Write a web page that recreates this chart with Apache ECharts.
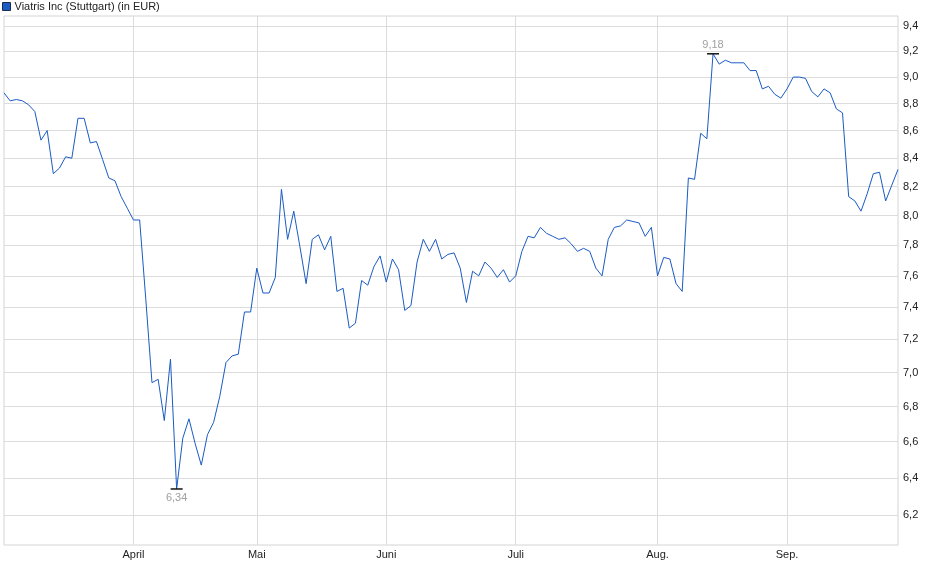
<!DOCTYPE html>
<html>
<head>
<meta charset="utf-8">
<script src="https://cdn.jsdelivr.net/npm/echarts@6/dist/echarts.min.js"></script>
<style>
  html, body { margin: 0; padding: 0; background: #fff; }
  #chart { width: 940px; height: 579px; }
</style>
</head>
<body>
<div id="chart"></div>
<script>
// trading days 2025 (Stuttgart), one category per day
const marchDays = [3, 4, 5, 6, 7, 10, 11, 12, 13, 14, 17, 18, 19, 20, 21, 24, 25, 26, 27, 28, 31];
const aprilDays = [1, 2, 3, 4, 7, 8, 9, 10, 11, 14, 15, 16, 17, 22, 23, 24, 25, 28, 29, 30];
const mayDays = [2, 5, 6, 7, 8, 9, 12, 13, 14, 15, 16, 19, 20, 21, 22, 23, 26, 27, 28, 29, 30];
const juneDays = [2, 3, 4, 5, 6, 9, 10, 11, 12, 13, 16, 17, 18, 19, 20, 23, 24, 25, 26, 27, 30];
const julyDays = [1, 2, 3, 4, 7, 8, 9, 10, 11, 14, 15, 16, 17, 18, 21, 22, 23, 24, 25, 28, 29, 30, 31];
const augDays = [1, 4, 5, 6, 7, 8, 11, 12, 13, 14, 15, 18, 19, 20, 21, 22, 25, 26, 27, 28, 29];
const sepDays = [1, 2, 3, 4, 5, 8, 9, 10, 11, 12, 15, 16, 17, 18, 19, 22, 23, 24, 25];

// closing prices in EUR
const marchPrices = [8.88, 8.82, 8.83, 8.82, 8.79, 8.74, 8.53, 8.60, 8.29, 8.33, 8.41, 8.40, 8.69, 8.69, 8.51, 8.52, 8.39, 8.26, 8.24, 8.13, 8.05];
const aprilPrices = [7.97, 7.97, 7.45, 6.94, 6.96, 6.72, 7.08, 6.34, 6.62, 6.73, 6.59, 6.47, 6.64, 6.71, 6.86, 7.06, 7.10, 7.11, 7.37, 7.37];
const mayPrices = [7.65, 7.49, 7.49, 7.59, 8.18, 7.84, 8.03, 7.79, 7.55, 7.84, 7.87, 7.77, 7.86, 7.50, 7.52, 7.27, 7.30, 7.57, 7.54, 7.66, 7.73];
const junePrices = [7.56, 7.71, 7.64, 7.38, 7.41, 7.69, 7.84, 7.76, 7.84, 7.71, 7.74, 7.75, 7.65, 7.43, 7.63, 7.60, 7.69, 7.65, 7.59, 7.64, 7.56];
const julyPrices = [7.60, 7.76, 7.86, 7.85, 7.92, 7.88, 7.86, 7.84, 7.85, 7.81, 7.76, 7.78, 7.76, 7.65, 7.60, 7.84, 7.92, 7.93, 7.97, 7.96, 7.95, 7.86, 7.92];
const augPrices = [7.60, 7.72, 7.71, 7.55, 7.50, 8.26, 8.25, 8.58, 8.54, 9.18, 9.10, 9.13, 9.11, 9.11, 9.11, 9.05, 9.05, 8.91, 8.93, 8.87, 8.84];
const sepPrices = [8.91, 9.00, 9.00, 8.99, 8.89, 8.85, 8.91, 8.88, 8.76, 8.73, 8.13, 8.10, 8.03, 8.15, 8.29, 8.30, 8.10, 8.21, 8.32];

const monthLabels = ["", "April", "Mai", "Juni", "Juli", "Aug.", "Sep."];
const yTicks = [6.2, 6.4, 6.6, 6.8, 7.0, 7.2, 7.4, 7.6, 7.8, 8.0, 8.2, 8.4, 8.6, 8.8, 9.0, 9.2, 9.4];
const seriesName = "Viatris Inc (Stuttgart) (in EUR)";

const monthDays = [marchDays, aprilDays, mayDays, juneDays, julyDays, augDays, sepDays];
const monthPrices = [marchPrices, aprilPrices, mayPrices, junePrices, julyPrices, augPrices, sepPrices];

const categories = [];
const prices = [];
const monthStart = {};
monthDays.forEach((days, m) => {
  monthStart[categories.length] = monthLabels[m];
  days.forEach(d => {
    categories.push(("0" + d).slice(-2) + "." + ("0" + (m + 3)).slice(-2) + ".2025");
  });
  monthPrices[m].forEach(p => prices.push(p));
});

const isMonthStart = index => index in monthStart && monthStart[index] !== "";
const fmt = v => Number(v).toFixed(2).replace(".", ",");
const fontFamily = "'Liberation Sans', Arial, sans-serif";

const chart = echarts.init(document.getElementById("chart"));
chart.setOption({
  animation: false,
  backgroundColor: "#fff",
  legend: {
    left: 0,
    top: 0,
    padding: [1, 2],
    icon: "rect",
    itemWidth: 8,
    itemHeight: 8,
    itemGap: 5,
    itemStyle: { borderColor: "#1c2c4c", borderWidth: 1 },
    textStyle: { fontFamily: fontFamily, fontSize: 11, color: "#222", padding: [0, 0, 0, -1] },
    data: [seriesName]
  },
  grid: {
    left: 4,
    right: 42,
    top: 16,
    bottom: 34,
    show: true,
    borderColor: "#d4d4d4",
    borderWidth: 1,
    containLabel: false
  },
  xAxis: {
    type: "category",
    data: categories,
    boundaryGap: false,
    axisLine: { show: false },
    axisTick: { show: false },
    axisLabel: {
      interval: (index) => isMonthStart(index),
      formatter: (value, index) => monthStart[index] || "",
      margin: 4,
      fontFamily: fontFamily,
      fontSize: 11,
      color: "#222"
    },
    splitLine: {
      show: true,
      interval: (index) => isMonthStart(index),
      lineStyle: { color: "#dcdcdc", width: 1 }
    }
  },
  yAxis: {
    type: "log",
    logBase: 10,
    position: "right",
    min: 6.045,
    max: 9.48,
    axisLine: { show: false },
    axisTick: { show: false, customValues: yTicks },
    axisLabel: {
      customValues: yTicks,
      formatter: v => Number(v).toFixed(1).replace(".", ","),
      margin: 5,
      fontFamily: fontFamily,
      fontSize: 11,
      color: "#222"
    },
    splitLine: { show: true, lineStyle: { color: "#dcdcdc", width: 1 } }
  },
  series: [
    {
      name: seriesName,
      type: "line",
      data: prices,
      showSymbol: false,
      symbol: "none",
      color: "#1a5bc4",
      lineStyle: { color: "#1a5bc4", width: 1 },
      markPoint: {
        symbol: "rect",
        symbolSize: [12, 1.5],
        itemStyle: { color: "#111" },
        label: {
          fontFamily: fontFamily,
          fontSize: 11,
          color: "#a0a0a0",
          formatter: p => fmt(p.value)
        },
        data: [
          { type: "max", label: { position: "top", distance: 3 } },
          { type: "min", label: { position: "bottom", distance: 3 } }
        ]
      }
    }
  ]
});
</script>
</body>
</html>
